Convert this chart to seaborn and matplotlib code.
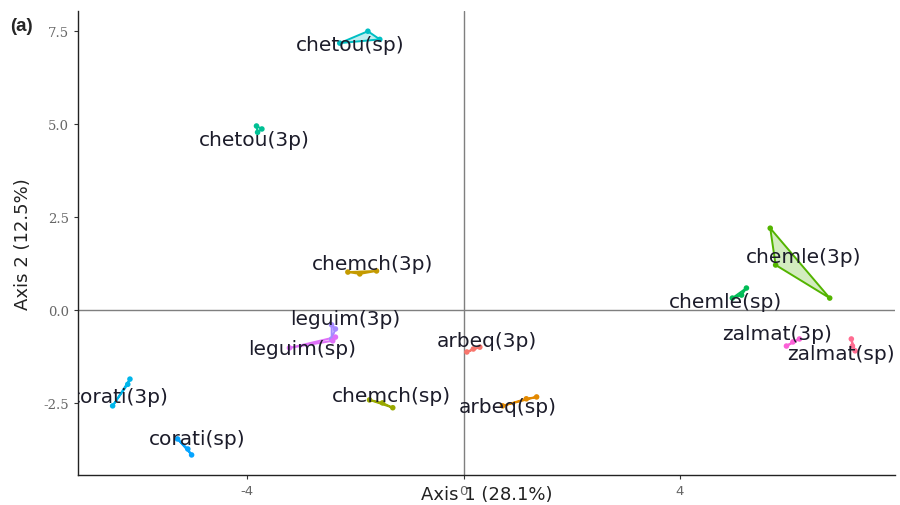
import numpy as np
import pandas as pd
import matplotlib
matplotlib.use("Agg")
import matplotlib.pyplot as plt
import seaborn as sns

groups = ["arbeq(3p)", "arbeq(sp)", "chemch(3p)", "chemch(sp)", "chemle(3p)", "chemle(sp)",
          "chetou(3p)", "chetou(sp)", "corati(3p)", "corati(sp)", "leguim(3p)", "leguim(sp)",
          "zalmat(3p)", "zalmat(sp)"]
colors = ["#F8766D", "#E38900", "#C49A00", "#99A800", "#53B400", "#00BC56", "#00C094",
          "#00BFC4", "#00B6EB", "#06A4FF", "#A58AFF", "#DF70F8", "#FB61D7", "#FF6C91"]

# individual coordinates (3 replicates per group)
axis1 = {
    "arbeq(3p)": [0.06, 0.18, 0.30],
    "arbeq(sp)": [0.72, 1.16, 1.35],
    "chemch(3p)": [-2.14, -1.92, -1.61],
    "chemch(sp)": [-1.74, -1.50, -1.31],
    "chemle(3p)": [5.67, 5.77, 6.77],
    "chemle(sp)": [5.23, 4.97, 5.14],
    "chetou(3p)": [-3.83, -3.81, -3.73],
    "chetou(sp)": [-2.29, -1.77, -1.55],
    "corati(3p)": [-6.17, -6.21, -6.49],
    "corati(sp)": [-5.29, -5.10, -5.03],
    "leguim(3p)": [-2.44, -2.37, -2.44],
    "leguim(sp)": [-3.22, -2.42, -2.37],
    "zalmat(3p)": [5.97, 6.21, 6.09],
    "zalmat(sp)": [7.17, 7.19, 7.24],
}
axis2 = {
    "arbeq(3p)": [-1.13, -1.05, -1.00],
    "arbeq(sp)": [-2.58, -2.39, -2.34],
    "chemch(3p)": [1.02, 0.97, 1.05],
    "chemch(sp)": [-2.42, -2.50, -2.63],
    "chemle(3p)": [2.20, 1.21, 0.32],
    "chemle(sp)": [0.59, 0.32, 0.40],
    "chetou(3p)": [4.95, 4.78, 4.87],
    "chetou(sp)": [7.18, 7.50, 7.28],
    "corati(3p)": [-1.86, -2.00, -2.58],
    "corati(sp)": [-3.47, -3.74, -3.90],
    "leguim(3p)": [-0.40, -0.51, -0.78],
    "leguim(sp)": [-1.02, -0.83, -0.73],
    "zalmat(3p)": [-0.97, -0.78, -0.86],
    "zalmat(sp)": [-0.78, -0.97, -1.10],
}
# group label positions
label_x = [0.43, 0.81, -1.68, -1.33, 6.29, 4.84, -3.87, -2.09, -6.36, -4.92,
           -2.18, -2.98, 5.80, 6.97]
label_y = [-0.83, -2.61, 1.26, -2.31, 1.45, 0.24, 4.60, 7.15, -2.34, -3.47,
           -0.24, -1.05, -0.62, -1.16]

rows = []
for g in groups:
    for a, b in zip(axis1[g], axis2[g]):
        rows.append({"Dim1": a, "Dim2": b, "group": g})
df = pd.DataFrame(rows)

sns.set_style("white")
plt.rcParams["font.family"] = ["DejaVu Sans"]

fig = plt.figure(figsize=(9, 5.06), dpi=100)
ax = fig.add_axes([0.0867, 0.0593, 0.9073, 0.9167])
pal = dict(zip(groups, colors))

ax.axhline(0, color="#7f7f7f", lw=1.0, zorder=1)
ax.axvline(0, color="#7f7f7f", lw=1.0, zorder=1)

for g in groups:
    xs = axis1[g]
    ys = axis2[g]
    ax.fill(xs, ys, facecolor=pal[g], alpha=0.25, edgecolor="none", zorder=2)
    ax.fill(xs, ys, facecolor="none", edgecolor=pal[g], lw=1.4, zorder=3)

sns.scatterplot(data=df, x="Dim1", y="Dim2", hue="group", palette=pal, s=16,
                edgecolor="none", legend=False, ax=ax, zorder=4)

for g, lx, ly in zip(groups, label_x, label_y):
    ax.text(lx, ly, g, ha="center", va="center", fontsize=14.5, color="#1c1c2a",
            zorder=5, clip_on=True)

ax.set_xlim(-7.13, 7.97)
ax.set_ylim(-4.44, 8.04)
ax.set_xticks([-4, 0, 4])
ax.set_xticklabels(["-4", "0", "4"])
ax.set_yticks([-2.5, 0.0, 2.5, 5.0, 7.5])
ax.set_yticklabels(["-2.5", "0.0", "2.5", "5.0", "7.5"], family=["DejaVu Serif"])
ax.tick_params(axis="both", colors="#666666", labelsize=9.5, length=3, width=0.8,
               direction="out", left=True, bottom=True)
ax.tick_params(axis="both", color="#333333")
ax.set_xlabel("Axis 1 (28.1%)", fontsize=13, color="#222222", labelpad=-9)
ax.set_ylabel("Axis 2 (12.5%)", fontsize=13, color="#222222", labelpad=8)
for side in ["top", "right"]:
    ax.spines[side].set_visible(False)
for side in ["left", "bottom"]:
    ax.spines[side].set_color("#222222")
    ax.spines[side].set_linewidth(1.0)

fig.text(0.011, 0.938, "(a)", fontsize=13.5, fontweight="bold", family=["Liberation Sans"])

fig.savefig("out.png", dpi=100)
